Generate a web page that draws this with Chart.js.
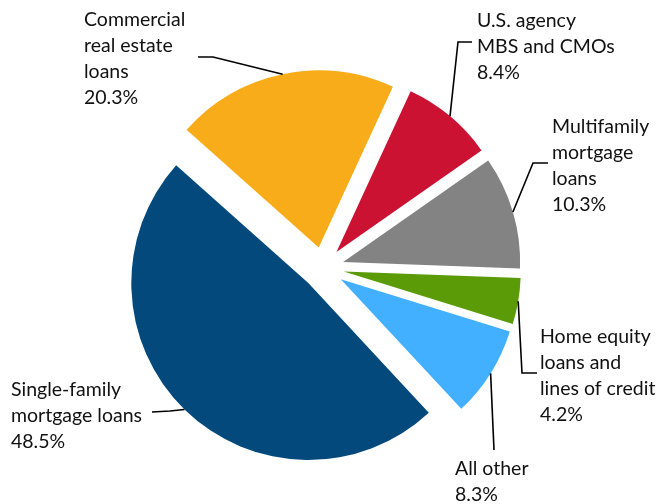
<!DOCTYPE html>
<html>
<head>
<meta charset="utf-8">
<script src="https://cdn.jsdelivr.net/npm/chart.js@4"></script>
<style>
  html,body{margin:0;padding:0;background:#fff;}
  #wrap{width:656px;height:504px;position:relative;}
</style>
</head>
<body>
<div id="wrap"><canvas id="pie"></canvas></div>
<script>
// Portfolio mix (%), drawn clockwise starting from the commercial slice
const categories = ['Commercial real estate loans','U.S. agency MBS and CMOs','Multifamily mortgage loans','Home equity loans and lines of credit','All other','Single-family mortgage loans'];
const shares = [20.3, 8.4, 10.3, 4.2, 8.3, 48.5];
const colors = ['#F9AC1A','#CC1232','#838383','#5B9B08','#42AFFF','#03497B'];

// Label blocks: text lines, left x, first baseline, and the elbow of each leader
// (the leader runs from the text side to the middle of the slice rim)
const labelLines = [
  ['Commercial','real estate','loans','20.3%'],
  ['U.S. agency','MBS and CMOs','8.4%'],
  ['Multifamily','mortgage','loans','10.3%'],
  ['Home equity','loans and','lines of credit','4.2%'],
  ['All other','8.3%'],
  ['Single-family','mortgage loans','48.5%']
];
const labelPos = [[84,26],[477,27],[552,133],[540,343],[455,475],[11,396]];
const leaderPts = [
  [[198,57],[213,57]],
  [[472,42],[458,42]],
  [[548,163],[533,163]],
  [[537,373],[522,373]],
  [[494,450]],
  [[152,412],[170,411]]
];

const EXPLODE = 21;
const FONT = '19.5px Lato, "Open Sans", sans-serif';

// pull every slice out along its mid angle
const explode = {
  id:'explode',
  beforeDatasetDraw(chart,args){
    const ctx = chart.ctx;
    args.meta.data.forEach(arc=>{
      const mid = (arc.startAngle+arc.endAngle)/2;
      ctx.save();
      ctx.translate(Math.cos(mid)*EXPLODE, Math.sin(mid)*EXPLODE);
      arc.draw(ctx);
      ctx.restore();
    });
    return false;
  }
};

const labels = {
  id:'labels',
  afterDraw(chart){
    const ctx = chart.ctx;
    const arcs = chart.getDatasetMeta(0).data;
    ctx.save();
    ctx.strokeStyle = '#000';
    ctx.lineWidth = 1.6;
    arcs.forEach((arc,i)=>{
      const mid = (arc.startAngle+arc.endAngle)/2;
      const r = arc.outerRadius + EXPLODE;
      const ex = arc.x + Math.cos(mid)*r;
      const ey = arc.y + Math.sin(mid)*r;
      const pts = leaderPts[i];
      ctx.beginPath();
      ctx.moveTo(pts[0][0],pts[0][1]);
      pts.slice(1).forEach(p=>ctx.lineTo(p[0],p[1]));
      ctx.lineTo(ex,ey);
      ctx.stroke();
    });
    ctx.fillStyle = '#111';
    ctx.font = FONT;
    ctx.textBaseline = 'alphabetic';
    ctx.textAlign = 'left';
    labelLines.forEach((lines,i)=>{
      const [x,y] = labelPos[i];
      lines.forEach((t,k)=>ctx.fillText(t,x,y+k*26));
    });
    ctx.restore();
  }
};

new Chart(document.getElementById('pie'),{
  type:'pie',
  data:{
    labels:categories,
    datasets:[{data:shares,backgroundColor:colors,borderWidth:0,offset:0}]
  },
  options:{
    responsive:true,
    maintainAspectRatio:false,
    animation:false,
    rotation:-48.3,
    radius:177,
    layout:{padding:{left:0,right:10,top:32,bottom:0}},
    plugins:{legend:{display:false},tooltip:{enabled:false}}
  },
  plugins:[explode,labels]
});
</script>
</body>
</html>
